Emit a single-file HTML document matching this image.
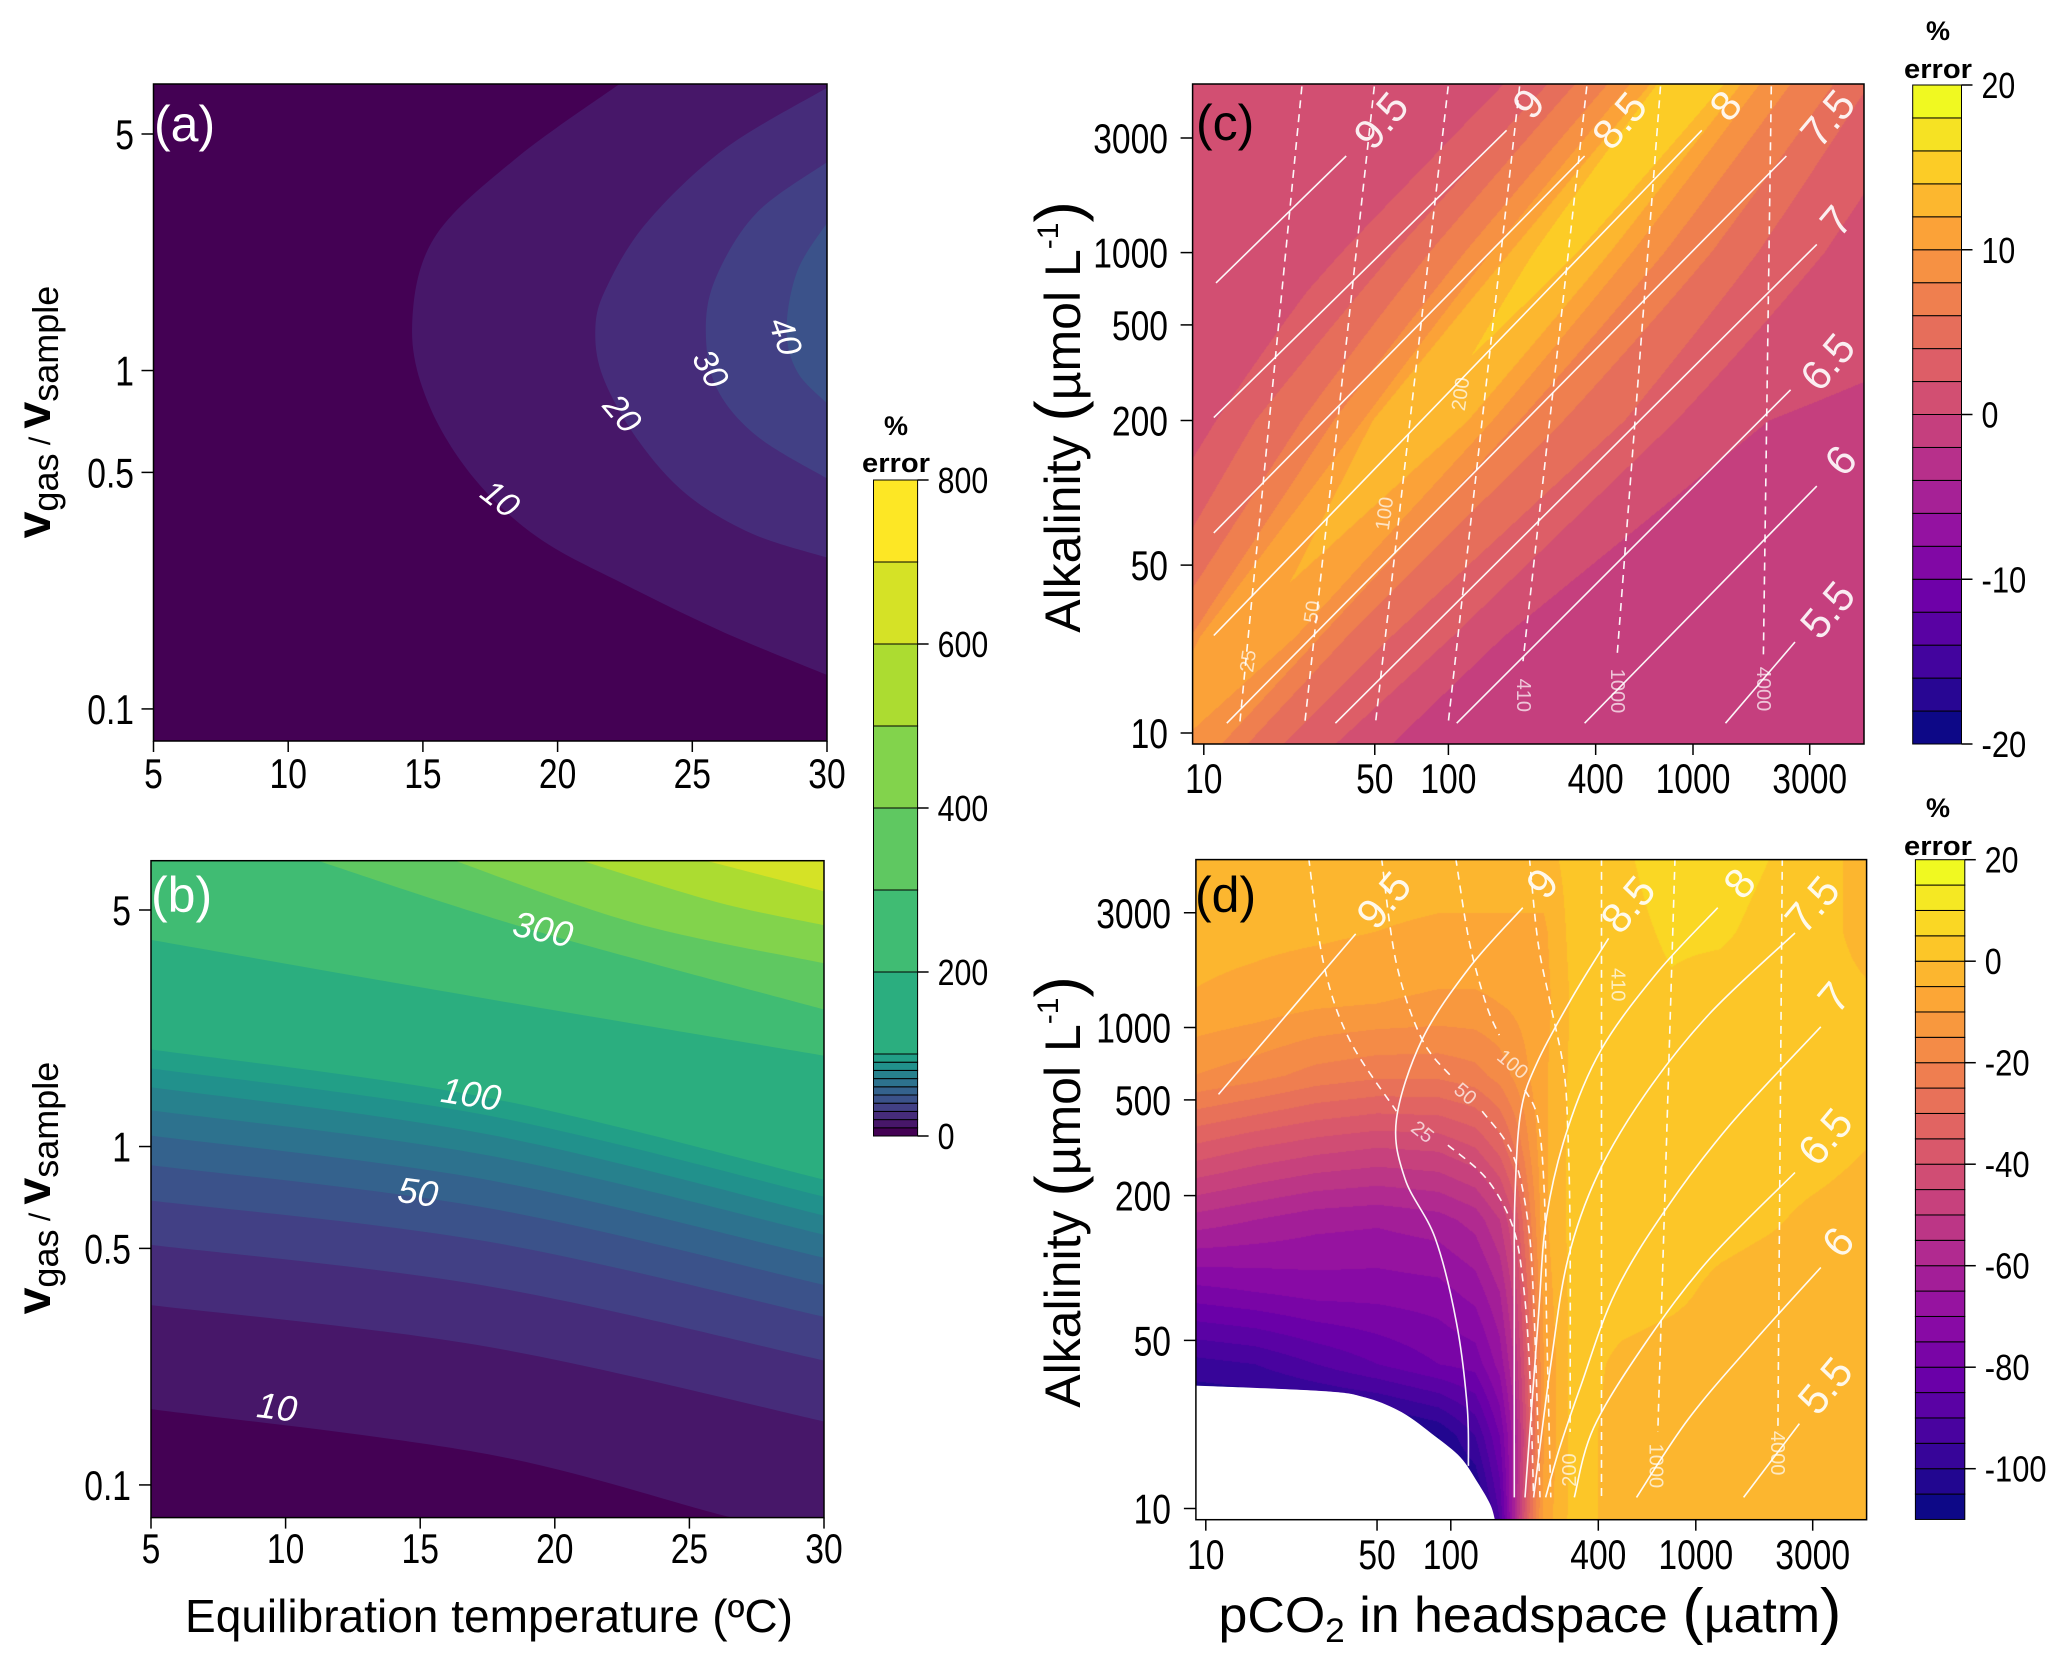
<!DOCTYPE html>
<html><head><meta charset="utf-8"><title>Error contour plots</title>
<style>
html,body{margin:0;padding:0;background:#fff;}
#wrap{position:relative;width:2067px;height:1667px;overflow:hidden;background:#fff;}
canvas{position:absolute;}
svg{position:absolute;left:0;top:0;}
text{font-family:"Liberation Sans",sans-serif;}
.tk{font-family:"Liberation Sans Narrow","Liberation Sans",sans-serif;font-size:42px;fill:#000;}
.cb{font-family:"Liberation Sans Narrow","Liberation Sans",sans-serif;font-size:36px;fill:#000;}
</style></head>
<body>
<div id="wrap">
<canvas id="cvc"></canvas>
<canvas id="cvd"></canvas>
<svg id="svg" width="2067" height="1667" xmlns="http://www.w3.org/2000/svg"></svg>
</div>
<script>
// ---------- Data: panels a & b ----------
const abLevels = [0,10,20,30,40,50,60,70,80,90,100,200,300,400,500,600,700,800];
const aLevels = [10,20,30,40];
const aCurveT = [
  [22.3,18.4,15.4,14.6,15.2,16.9,19.3,22.5,26.2,30],
  [30,26.2,23.3,21.8,21.4,21.7,23.0,24.8,27.2,30],
  [30,27.4,25.9,25.5,25.9,27.4,30],
  [30,28.9,28.5,28.9,30]
];
const aCurveV = [
  [7.03,4.2,2.45,1.35,0.80,0.48,0.32,0.233,0.168,0.126],
  [6.85,4.52,2.73,1.75,1.32,0.95,0.62,0.43,0.33,0.28],
  [4.13,2.93,1.90,1.32,0.89,0.64,0.48],
  [2.73,1.97,1.32,0.99,0.80]
];
const aLabelText = ['10','20','30','40'];
const aLabelT = [17.86,22.39,25.66,28.44];
const aLabelV = [0.417,0.745,1.01,1.26];
const aLabelRot = [38,50,60,70];

const bLevels = [10,20,30,40,50,60,70,80,90,100,200,300,400,500,600];
const bCurveT = [
  [5,17.5,26.6,30],[5,17.5,30],[5,17.5,30],[5,17.5,30],[5,17.5,30],
  [5,17.5,30],[5,17.5,30],[5,17.5,30],[5,17.5,30],[5,17.5,30],
  [5,17.5,30],[11.1,19.1,30],[16.2,23,30],[20.9,26,30],[25.5,30]
];
const bCurveV = [
  [0.1675,0.1233,0.080,0.072],[0.340,0.256,0.154],[0.512,0.387,0.233],[0.692,0.524,0.314],
  [0.881,0.658,0.390],[1.077,0.797,0.469],[1.279,0.942,0.549],[1.496,1.087,0.625],
  [1.702,1.236,0.711],[1.936,1.394,0.798],[4.08,2.73,1.857],[7.03,4.38,2.54],
  [7.03,4.57,3.48],[7.03,5.28,4.51],[7.03,5.68]
];
const bLabelText = ['300','100','50','10'];
const bLabelT = [19.56,16.89,14.92,9.68];
const bLabelV = [4.39,1.43,0.734,0.170];
const bLabelRot = [12,9,8,7];

const abTempTicks = [5,10,15,20,25,30];
const abRatioTicks = [0.1,0.5,1,5];
const abRatioTickLabels = ['0.1','0.5','1','5'];
const abBarTicks = [0,200,400,600,800];

// ---------- Data: panel c ----------
const cRidgeA = [0.95,1.4,2.3,3.0,3.7];
const cRidgeP = [0.82,1.175,1.88,2.435,2.985];
const cRidgePeak = [10.5,11.5,13.5,14.8,15.5];
const cRidgeWidth = [1,1,1,0.85,0.7];
const cLeftH = [0,0.19,0.23,0.35,0.48,0.67,0.83,1.0,1.3];
const cLeftDrop = [0,1.5,3.5,5.5,7.5,9.5,11.5,12.5,16];
const cRightH = [0,0.2,0.3,0.41,0.59,0.84,1.05,1.43,2.5];
const cRightDrop = [0,1.5,3.5,5.5,7.5,9.5,11.5,13.5,14.5];
const cFloors = [0.5,-1.5];
const cLevels = [-20,-18,-16,-14,-12,-10,-8,-6,-4,-2,0,2,4,6,8,10,12,14,16,18,20];
const cBarTicks = [20,10,0,-10,-20];

const cPhText = ['9.5','9','8.5','8','7.5','7','6.5','6','5.5'];
const cPhP = [[1.582,1.050],[2.238,1.041],[2.557,1.041],[3.036,1.041],[3.382,1.094],[3.506,1.538],[3.399,2.034],[3.506,2.557],[3.417,3.133]];
const cPhA = [[3.402,2.874],[3.509,2.313],[3.402,1.833],[3.509,1.406],[3.402,1.041],[3.034,1.041],[2.429,1.041],[2.028,1.041],[1.379,1.041]];
const cPhLabP = [1.724,2.327,2.699,3.133,3.550,3.585,3.550,3.603,3.550];
const cPhLabA = [3.550,3.621,3.550,3.612,3.559,3.132,2.545,2.135,1.513];
const cCoP = [[1.401,1.147],[1.697,1.413],[1.999,1.702],[2.291,1.999],[2.566,2.305],[2.867,2.690],[3.320,3.288]];
const cCoA = [[3.692,1.041],[3.692,1.041],[3.692,1.041],[3.692,1.041],[3.692,1.299],[3.692,1.326],[3.692,1.326]];
const cCoText = ['25','50','100','200','410','1000','4000'];
const cCoLabP = [1.183,1.445,1.741,2.052,2.305,2.690,3.287];
const cCoLabA = [1.299,1.504,1.913,2.411,1.157,1.175,1.183];
const cCoRot = [-82,-82,-82,-82,90,90,90];

// ---------- Data: panel d ----------
const dP = [0.95,1.2,1.45,1.7,1.95,2.1,2.2,2.26,2.32,2.38,2.5,2.7,2.9,3.1,3.3,3.5,3.7];
const dA = [3.7,3.4,3.1,2.8,2.5,2.2,1.9,1.6,1.3,0.95];
const dValues = [
  [-2,-2,-2,-2,-2,-2,-2,-2,-2,-2,2,4,8,8,5,1,-1],
  [-3,-3.5,-4,-5,-6,-6,-6,-6,-6,-6,2,3,6,6,3,1,-1],
  [-5.5,-7,-9,-10,-11,-11,-10,-9,-8,-7,1,2,4,2,1.5,1,0.5],
  [-15,-18,-22,-24,-24,-22,-18,-14,-10,-6,1.5,2,2,2,2,1.5,1],
  [-36,-40,-43,-45,-44,-40,-33,-25,-15,-6,2,2,2,2,2,1.5,0],
  [-57,-60,-63,-64,-62,-58,-50,-40,-22,-6,2,2,2,1.5,0.5,-1,-2],
  [-77,-75,-73,-73,-72,-68,-60,-48,-28,-8,2,2,1,-1,-2,-2,-2],
  [-97,-95,-90,-85,-80,-78,-68,-55,-32,-10,2,-1,-2,-2,-2,-2,-2],
  [-110,-110,-110,-110,-105,-95,-80,-62,-35,-10,2,-2,-2,-2,-2,-2,-2],
  [-110,-110,-110,-110,-110,-110,-90,-60,-30,-8,2,-2,-2,-2,-2,-2,-2]
];
const dLevelMin = -110, dLevelStep = 5, dBandCount = 26;
const dBarTicks = [20,0,-20,-40,-60,-80,-100];
const dWhiteP = [0.9,0.956,1.481,1.65,1.80,1.936,2.040,2.110,2.160,2.180,2.19,0.9];
const dWhiteA = [1.511,1.511,1.488,1.462,1.400,1.300,1.212,1.107,1.019,0.953,0.9,0.9];

const dPhText = ['9.5','9','8.5','8','7.5','7','6.5','6','5.5'];
const dPhP = [[1.612,1.052],[2.294,2.076,1.883,1.778,1.813,1.936,2.023,2.067,2.072],[2.644,2.496,2.356,2.286,2.262,2.259,2.259],
  [3.090,2.845,2.618,2.478,2.391,2.356,2.303],[3.405,3.055,2.793,2.600,2.478,2.408,2.338],[3.510,3.143,2.880,2.671,2.531,2.443,2.387],
  [3.405,3.055,2.793,2.583,2.504],[3.510,3.230,2.968,2.758],[3.423,3.195]];
const dPhA = [[3.389,2.722],[3.498,3.249,2.950,2.617,2.371,2.125,1.774,1.423,1.177],[3.371,3.126,2.862,2.652,2.301,1.950,1.046],
  [3.498,3.231,2.915,2.582,2.213,1.774,1.046],[3.393,3.056,2.722,2.389,2.037,1.599,1.046],[3.003,2.599,2.248,1.897,1.511,1.248,1.046],
  [2.397,2.037,1.686,1.335,1.046],[2.002,1.686,1.370,1.046],[1.353,1.046]];
const dPhLabP = [1.726,2.373,2.723,3.178,3.475,3.563,3.528,3.580,3.528];
const dPhLabA = [3.53,3.60,3.512,3.60,3.512,3.126,2.546,2.108,1.511];
const dCoP = [[1.420,1.481,1.586,1.778],[1.988,2.146,2.251,2.294,2.321,2.338],[1.717,1.778,1.883,2.006],[2.128,2.251,2.312,2.338,2.364],
  [2.020,2.076,2.146,2.198],[2.303,2.356,2.382,2.391,2.408],[2.321,2.356,2.408,2.461,2.478,2.487,2.487],[2.615,2.615],[2.915,2.845],[3.353,3.335]];
const dCoA = [[3.705,3.266,2.950,2.652],[2.511,2.371,2.178,1.950,1.599,1.046],[3.705,3.266,2.950,2.792],[2.652,2.476,2.213,1.862,1.046],
  [3.705,3.354,3.091,2.968],[2.740,2.617,2.301,1.774,1.046],[3.705,3.354,3.091,2.827,2.564,2.125,1.318],[3.705,1.046],[3.705,1.318],[3.705,1.318]];
const dCoText = ['25','50','100','200','410','1000','4000'];
const dCoLabP = [1.883,2.058,2.251,2.487,2.680,2.836,3.332];
const dCoLabA = [2.564,2.722,2.845,1.16,3.178,1.177,1.23];
const dCoRot = [38,40,40,-90,90,90,90];

const pco2Ticks = [10,50,100,400,1000,3000];
const alkTicks = [10,50,200,500,1000,3000];

// ---------- Palettes ----------
const VIR=['#440154','#482475','#414487','#355F8D','#2A788E','#21918C','#22A884','#44BF70','#7AD151','#BDDF26','#FDE725'];
const PLA=['#0D0887','#41049D','#6A00A8','#8F0DA4','#B12A90','#CC4778','#E16462','#F2844B','#FCA636','#FCCE25','#F0F921'];
function hx(h){return [parseInt(h.substr(1,2),16),parseInt(h.substr(3,2),16),parseInt(h.substr(5,2),16)];}
function palRGB(st,t){t=Math.max(0,Math.min(1,t));const f=t*(st.length-1);const i=Math.min(st.length-2,Math.floor(f));const u=f-i;const a=hx(st[i]),b=hx(st[i+1]);return [0,1,2].map(k=>Math.round(a[k]+(b[k]-a[k])*u));}
function pal(st,t){const c=palRGB(st,t);return 'rgb('+c.join(',')+')';}
function narrowW(s,fs){let w=0;for(const c of s)w+=(c==='.')?0.228:(c==='-')?0.30:0.456;return (w*fs).toFixed(1);}

// ---------- Scales ----------
const L5=Math.log10(5);
const PA={x0:153.5,x1:827,y0:84,y1:741,sx:T=>153.5+(T-5)*26.94,sy:v=>134+(L5-Math.log10(v))*338.4};
const PB={x0:151,x1:824,y0:860.7,y1:1517.6,sx:T=>151+(T-5)*26.92,sy:v=>910+(L5-Math.log10(v))*338.4};
const PC={x0:1192.6,x1:1864,y0:84,y1:744,sx:p=>1203.8+(p-1)*244.6,sy:a=>733-(a-1)*240.2};
const PD={x0:1195.9,x1:1866.6,y0:859.6,y1:1519.7,sx:p=>1205.8+(p-1)*245,sy:a=>1508.5-(a-1)*240.5};

const NS='http://www.w3.org/2000/svg';
const svg=document.getElementById('svg');
function el(tag,attrs,parent){const e=document.createElementNS(NS,tag);for(const k in attrs)e.setAttribute(k,attrs[k]);(parent||svg).appendChild(e);return e;}
function smooth(p){let d='M'+p[0][0].toFixed(1)+','+p[0][1].toFixed(1);for(let i=0;i<p.length-1;i++){const p0=p[i-1]||p[i],p1=p[i],p2=p[i+1],p3=p[i+2]||p2;const c1=[p1[0]+(p2[0]-p0[0])/6,p1[1]+(p2[1]-p0[1])/6];const c2=[p2[0]-(p3[0]-p1[0])/6,p2[1]-(p3[1]-p1[1])/6];d+=' C'+c1[0].toFixed(1)+','+c1[1].toFixed(1)+' '+c2[0].toFixed(1)+','+c2[1].toFixed(1)+' '+p2[0].toFixed(1)+','+p2[1].toFixed(1);}return d;}
function lin(xs,ys,x){if(x<=xs[0])return ys[0];for(let i=0;i<xs.length-1;i++){if(x<=xs[i+1]){const u=(x-xs[i])/(xs[i+1]-xs[i]);return ys[i]+(ys[i+1]-ys[i])*u;}}return ys[ys.length-1];}
const defs=el('defs',{});
function clipDef(id,P){const cp=el('clipPath',{id:id},defs);el('rect',{x:P.x0,y:P.y0,width:P.x1-P.x0,height:P.y1-P.y0},cp);}
clipDef('clipa',PA);clipDef('clipb',PB);clipDef('clipc',PC);clipDef('clipd',PD);
const nAB=abLevels.length-1;

// ---------- Panel a ----------
const ga=el('g',{'clip-path':'url(#clipa)'});


const ba=el('rect',{x:PA.x0,y:PA.y0,width:PA.x1-PA.x0,height:PA.y1-PA.y0,fill:pal(VIR,0)},ga);


aLevels.forEach((lv,i)=>{
  const pts=aCurveT[i].map((T,j)=>[PA.sx(T),PA.sy(aCurveV[i][j])]);
  const first=pts[0],last=pts[pts.length-1];
  let d=smooth(pts)+' L'+(PA.x1+20)+','+last[1]+' L'+(PA.x1+20)+','+(first[1]-20)+' L'+first[0]+','+(first[1]-20)+' Z';
  const k=abLevels.indexOf(lv);
  const p=el('path',{d:d,fill:pal(VIR,k/(nAB-1))},ga);
  
  
});
aLabelText.forEach((t,i)=>{
  const x=PA.sx(aLabelT[i]),y=PA.sy(aLabelV[i]);
  const tx=el('text',{x:x,y:y,'text-anchor':'middle','dominant-baseline':'central','font-size':34,'font-style':'italic',fill:'#fff',transform:'rotate('+aLabelRot[i]+' '+x+' '+y+')'});
  tx.textContent=t;
  
  
});

// ---------- Panel b ----------
const gb=el('g',{'clip-path':'url(#clipb)'});


const bb=el('rect',{x:PB.x0,y:PB.y0,width:PB.x1-PB.x0,height:PB.y1-PB.y0,fill:pal(VIR,0)},gb);


bLevels.forEach((lv,i)=>{
  const pts=bCurveT[i].map((T,j)=>[PB.sx(T),PB.sy(bCurveV[i][j])]);
  const first=pts[0],last=pts[pts.length-1];
  const fx=bCurveT[i][0]<=5?PB.x0-20:first[0];
  let d=smooth(pts)+' L'+(PB.x1+20)+','+last[1]+' L'+(PB.x1+20)+','+(PB.y0-20)+' L'+fx+','+(PB.y0-20)+' L'+fx+','+first[1]+' Z';
  const k=abLevels.indexOf(lv);
  const p=el('path',{d:d,fill:pal(VIR,k/(nAB-1))},gb);
  
  
});
bLabelText.forEach((t,i)=>{
  const x=PB.sx(bLabelT[i]),y=PB.sy(bLabelV[i]);
  const tx=el('text',{x:x,y:y,'text-anchor':'middle','dominant-baseline':'central','font-size':36,'font-style':'italic',fill:'#fff',transform:'rotate('+bLabelRot[i]+' '+x+' '+y+')'});
  tx.textContent=t;
  
  
});

// ---------- Canvas fields c & d ----------
function fieldC(lp,la){
  const c=lin(cRidgeA,cRidgeP,la),pk=lin(cRidgeA,cRidgePeak,la),wd=lin(cRidgeA,cRidgeWidth,la);const h=(lp-c)/wd;
  if(h<0)return Math.max(cFloors[0],pk-lin(cLeftH,cLeftDrop,-h));
  return Math.max(cFloors[1],pk-lin(cRightH,cRightDrop,h));
}
function fieldD(lp,la){
  let i=0;while(i<dP.length-2&&lp>dP[i+1])i++;
  let j=0;while(j<dA.length-2&&la<dA[j+1])j++;
  let u=(lp-dP[i])/(dP[i+1]-dP[i]);u=Math.max(0,Math.min(1,u));
  let w=(dA[j]-la)/(dA[j]-dA[j+1]);w=Math.max(0,Math.min(1,w));
  const a=dValues[j][i],b=dValues[j][i+1],c=dValues[j+1][i],d=dValues[j+1][i+1];
  return a*(1-u)*(1-w)+b*u*(1-w)+c*(1-u)*w+d*u*w;
}
function paint(id,P,invX,invY,f,bandOf,nb){
  const cv=document.getElementById(id);const x0=Math.round(P.x0),y0=Math.round(P.y0);
  const w=Math.round(P.x1)-x0,h=Math.round(P.y1)-y0;
  cv.width=w;cv.height=h;cv.style.left=x0+'px';cv.style.top=y0+'px';
  const ctx=cv.getContext('2d');const img=ctx.createImageData(w,h);
  const cols=[];for(let k=0;k<nb;k++)cols.push(palRGB(PLA,k/(nb-1)));
  for(let py=0;py<h;py++){const la=invY(y0+py+0.5);for(let px=0;px<w;px++){const lp=invX(x0+px+0.5);
    let k=bandOf(f(lp,la));k=Math.max(0,Math.min(nb-1,k));const c=cols[k];const o=(py*w+px)*4;
    img.data[o]=c[0];img.data[o+1]=c[1];img.data[o+2]=c[2];img.data[o+3]=255;}}
  ctx.putImageData(img,0,0);
}
paint('cvc',PC,x=>1+(x-1203.8)/244.6,y=>1+(733-y)/240.2,fieldC,v=>Math.floor((v-cLevels[0])/2),cLevels.length-1);
paint('cvd',PD,x=>1+(x-1205.8)/245,y=>1+(1508.5-y)/240.5,fieldD,v=>Math.floor((v-dLevelMin)/dLevelStep),dBandCount);

// ---------- Lines & labels ----------
function lines(P,clipId,Ps,As,dash,name){
  const g=el('g',{'clip-path':'url(#'+clipId+')'});
  
  
  Ps.forEach((arr,i)=>{
    const pts=arr.map((p,j)=>[P.sx(p),P.sy(As[i][j])]);
    const pa=el('path',{d:smooth(pts),fill:'none',stroke:'#fff','stroke-width':1.6,'stroke-dasharray':dash?'8,6':'none','stroke-opacity':0.95},g);
    
    
  });
}
function labels(P,texts,Ps,As,rots,size,op,name){
  texts.forEach((t,i)=>{
    const x=P.sx(Ps[i]),y=P.sy(As[i]);const r=Array.isArray(rots)?rots[i]:rots;
    const tx=el('text',{x:x,y:y,'text-anchor':'middle','dominant-baseline':'central','font-size':size,fill:'#fff','fill-opacity':op,transform:'rotate('+r+' '+x+' '+y+')'});
    tx.textContent=t;
    
    
  });
}
lines(PC,'clipc',cPhP,cPhA,false,'ph-isolines-c');
lines(PC,'clipc',cCoP,cCoA,true,'pco2-isolines-c');
labels(PC,cPhText,cPhLabP,cPhLabA,-50,42,0.9,'ph-label-c');
labels(PC,cCoText,cCoLabP,cCoLabA,cCoRot,20,0.7,'pco2-label-c');

const wp=dWhiteP.map((p,i)=>[PD.sx(p),PD.sy(dWhiteA[i])]);
const gw=el('g',{'clip-path':'url(#clipd)'});
const wpath=el('path',{d:smooth(wp.slice(0,11))+' L'+wp[11][0].toFixed(1)+','+wp[11][1].toFixed(1)+' Z',fill:'#fff'},gw);


lines(PD,'clipd',dPhP,dPhA,false,'ph-isolines-d');
lines(PD,'clipd',dCoP,dCoA,true,'pco2-isolines-d');
labels(PD,dPhText,dPhLabP,dPhLabA,-50,42,0.9,'ph-label-d');
labels(PD,dCoText,dCoLabP,dCoLabA,dCoRot,20,0.7,'pco2-label-d');

// ---------- Frames, ticks ----------
function frame(P,name){const r=el('rect',{x:P.x0,y:P.y0,width:P.x1-P.x0,height:P.y1-P.y0,fill:'none',stroke:'#000','stroke-width':1.5});
  
  }
frame(PA,'plot-frame-a');frame(PB,'plot-frame-b');frame(PC,'plot-frame-c');frame(PD,'plot-frame-d');
function xticks(P,vals,labs,tr,base,name){vals.forEach((v,i)=>{const x=P.sx(tr(v));
  const l=el('line',{x1:x,x2:x,y1:P.y1,y2:P.y1+11,stroke:'#000','stroke-width':1.5});
  
  
  const t=el('text',{x:x,y:base,'text-anchor':'middle',class:'tk',textLength:narrowW(labs[i],41),lengthAdjust:'spacingAndGlyphs'});t.textContent=labs[i];
  
  });}
function yticks(P,vals,labs,tr,lx,name){vals.forEach((v,i)=>{const y=P.sy(tr(v));
  const l=el('line',{x1:P.x0-12,x2:P.x0,y1:y,y2:y,stroke:'#000','stroke-width':1.5});
  
  
  const t=el('text',{x:lx,y:y+15,'text-anchor':'end',class:'tk',textLength:narrowW(labs[i],41),lengthAdjust:'spacingAndGlyphs'});t.textContent=labs[i];
  
  });}
const id=v=>v, lg=v=>Math.log10(v);
xticks(PA,abTempTicks,abTempTicks.map(String),id,788,'x-axis-a');
xticks(PB,abTempTicks,abTempTicks.map(String),id,1563,'x-axis-b');
yticks(PA,abRatioTicks,abRatioTickLabels,id,134,'y-axis-a');
yticks(PB,abRatioTicks,abRatioTickLabels,id,131,'y-axis-b');
xticks(PC,pco2Ticks,pco2Ticks.map(String),lg,793,'x-axis-c');
xticks(PD,pco2Ticks,pco2Ticks.map(String),lg,1569,'x-axis-d');
yticks(PC,alkTicks,alkTicks.map(String),lg,1168,'y-axis-c');
yticks(PD,alkTicks,alkTicks.map(String),lg,1171,'y-axis-d');

// ---------- Colorbars ----------
function colorbar(x0,x1,sy,levels,colorOf,ticks,name){
  const g=el('g',{});
  
  
  for(let k=0;k<levels.length-1;k++){const ya=sy(levels[k+1]),yb=sy(levels[k]);
    const r=el('rect',{x:x0,y:ya,width:x1-x0,height:yb-ya,fill:colorOf(k),stroke:'#000','stroke-width':1},g);
    
    }
  ticks.forEach(v=>{const y=sy(v);
    const l=el('line',{x1:x1,x2:x1+11,y1:y,y2:y,stroke:'#000','stroke-width':1.5},g);
    
    
    const s=String(v);
    const t=el('text',{x:x1+20,y:y+13,class:'cb',textLength:narrowW(s,37),lengthAdjust:'spacingAndGlyphs'},g);t.textContent=s;
    
    });
}
colorbar(873.5,917.6,v=>1136-v*(656/800),abLevels,k=>pal(VIR,k/(nAB-1)),abBarTicks,'colorbar-ab');
colorbar(1912.7,1961.5,v=>414.5-v*16.475,cLevels,k=>pal(PLA,k/(cLevels.length-2)),cBarTicks,'colorbar-c');
const dLv=[];for(let k=0;k<=dBandCount;k++)dLv.push(dLevelMin+k*dLevelStep);
colorbar(1915.4,1964.8,v=>961.2-v*5.075,dLv,k=>pal(PLA,k/(dBandCount-1)),dBarTicks,'colorbar-d');
function cbTitle(x,y1,y2,name){
  const a=el('text',{x:x,y:y1,'text-anchor':'middle','font-size':27,'font-weight':'bold'});a.textContent='%';
  
  
  const b=el('text',{x:x,y:y2,'text-anchor':'middle','font-size':27,'font-weight':'bold',textLength:68,lengthAdjust:'spacingAndGlyphs'});b.textContent='error';
  
  }
cbTitle(896,435,472,'colorbar-ab-title');
cbTitle(1938,40,78,'colorbar-c-title');
cbTitle(1938,817,855,'colorbar-d-title');
</script>
<svg width="2067" height="1667" style="position:absolute;left:0;top:0" xmlns="http://www.w3.org/2000/svg">
  <text x="154" y="141" font-size="50" fill="#fff">(a)</text>
  <text x="151" y="912" font-size="50" fill="#fff">(b)</text>
  <text x="1196" y="140" font-size="50" fill="#000">(c)</text>
  <text x="1195" y="912" font-size="50" fill="#000">(d)</text>
  <text transform="translate(50,412) rotate(-90)" text-anchor="middle" fill="#000"><tspan font-weight="bold" font-size="48">v</tspan><tspan font-size="36" dy="8">gas</tspan><tspan font-size="30" dy="-8"> / </tspan><tspan font-weight="bold" font-size="48">v</tspan><tspan font-size="36" dy="8">sample</tspan></text>
  <text transform="translate(50,1188) rotate(-90)" text-anchor="middle" fill="#000"><tspan font-weight="bold" font-size="48">v</tspan><tspan font-size="36" dy="8">gas</tspan><tspan font-size="30" dy="-8"> / </tspan><tspan font-weight="bold" font-size="48">v</tspan><tspan font-size="36" dy="8">sample</tspan></text>
  <text transform="translate(1080,417) rotate(-90)" text-anchor="middle" font-size="50" fill="#000">Alkalinity <tspan font-size="64">(</tspan>µmol L<tspan font-size="30" dy="-22">-1</tspan><tspan font-size="64" dy="22">)</tspan></text>
  <text transform="translate(1080,1192) rotate(-90)" text-anchor="middle" font-size="50" fill="#000">Alkalinity <tspan font-size="64">(</tspan>µmol L<tspan font-size="30" dy="-22">-1</tspan><tspan font-size="64" dy="22">)</tspan></text>
  <text x="489" y="1632" text-anchor="middle" font-size="46" textLength="608" lengthAdjust="spacingAndGlyphs" fill="#000">Equilibration temperature (ºC)</text>
  <text x="1530" y="1632" text-anchor="middle" font-size="50" textLength="623" lengthAdjust="spacingAndGlyphs" fill="#000">pCO<tspan font-size="34" dy="10">2</tspan><tspan dy="-10"> in headspace </tspan><tspan font-size="62">(</tspan>µatm<tspan font-size="62">)</tspan></text>
</svg>
</body></html>
